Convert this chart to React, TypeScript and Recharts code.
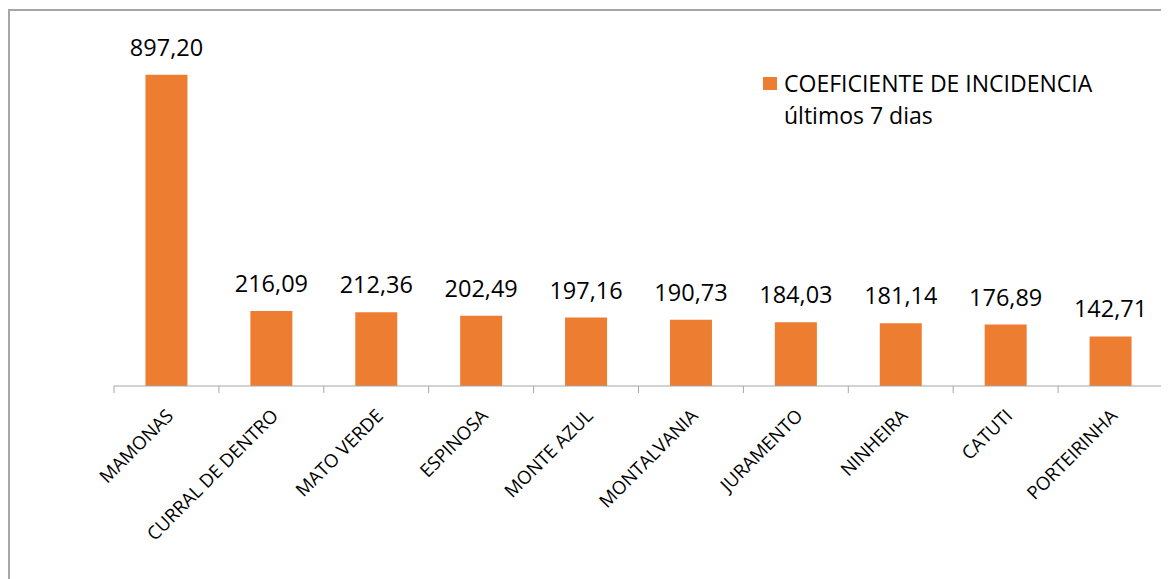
import React from 'react';
import { BarChart, Bar, XAxis, YAxis, LabelList } from 'recharts';

const categories = ['MAMONAS', 'CURRAL DE DENTRO', 'MATO VERDE', 'ESPINOSA', 'MONTE AZUL', 'MONTALVANIA', 'JURAMENTO', 'NINHEIRA', 'CATUTI', 'PORTEIRINHA'];
const incidencia = [897.2, 216.09, 212.36, 202.49, 197.16, 190.73, 184.03, 181.14, 176.89, 142.71];
const seriesName = 'COEFICIENTE DE INCIDENCIA últimos 7 dias';
const legendLine1 = 'COEFICIENTE DE INCIDENCIA';
const legendLine2 = 'últimos 7 dias';

const data = categories.map((c, i) => ({ name: c, value: incidencia[i] }));
const lastCat = categories[categories.length - 1];

const FONT = '"Open Sans", sans-serif';
const ORANGE = '#ED7D31';
const GRAY = '#a6a6a6';

const fmt = (v: number) => v.toFixed(2).replace('.', ',');

const Tick = (props: any) => {
  const { x, y, payload } = props;
  const off = payload.offset || 0;
  return (
    <g>
      <line x1={x - off} y1={y} x2={x - off} y2={y + 7} stroke={GRAY} strokeWidth={1} />
      {payload.value === lastCat && (
        <line x1={x + off} y1={y} x2={x + off} y2={y + 7} stroke={GRAY} strokeWidth={1} />
      )}
      <g transform={`translate(${x + 8},${y + 31})`}>
        <text transform="rotate(-45)" textAnchor="end" fontFamily={FONT} fontSize={18.5} fill="#000">
          {payload.value}
        </text>
      </g>
    </g>
  );
};

export default function App() {
  return (
    <div style={{ position: 'relative', marginTop: 1, borderTop: `2px solid ${GRAY}`, borderLeft: `2px solid ${GRAY}`, width: 1161, height: 570, background: '#fff' }}>
      <BarChart
        width={1159}
        height={568}
        data={data}
        margin={{ top: 28, right: 6, bottom: 0, left: 104 }}
        barCategoryGap="30%"
      >
        <YAxis hide domain={[0, 1000]} />
        <XAxis
          dataKey="name"
          interval={0}
          height={193}
          tickLine={false}
          tickSize={0}
          tickMargin={0}
          axisLine={{ stroke: GRAY, strokeWidth: 1 }}
          tick={<Tick />}
        />
        <Bar dataKey="value" name={seriesName} fill={ORANGE} isAnimationActive={false}>
          <LabelList dataKey="value" position="top" offset={19} formatter={(v: any) => fmt(Number(v))} style={{ fontFamily: FONT, fontSize: 23.5, fill: '#000' }} />
        </Bar>
      </BarChart>
      <div style={{ position: 'absolute', top: 56, left: 753, fontFamily: FONT, fontSize: 23, color: '#000', lineHeight: '32px', paddingLeft: 21 }}>
        <div style={{ position: 'absolute', left: 0, top: 10, width: 14, height: 13, background: ORANGE }} />
        <div>{legendLine1}</div>
        <div>{legendLine2}</div>
      </div>
    </div>
  );
}
